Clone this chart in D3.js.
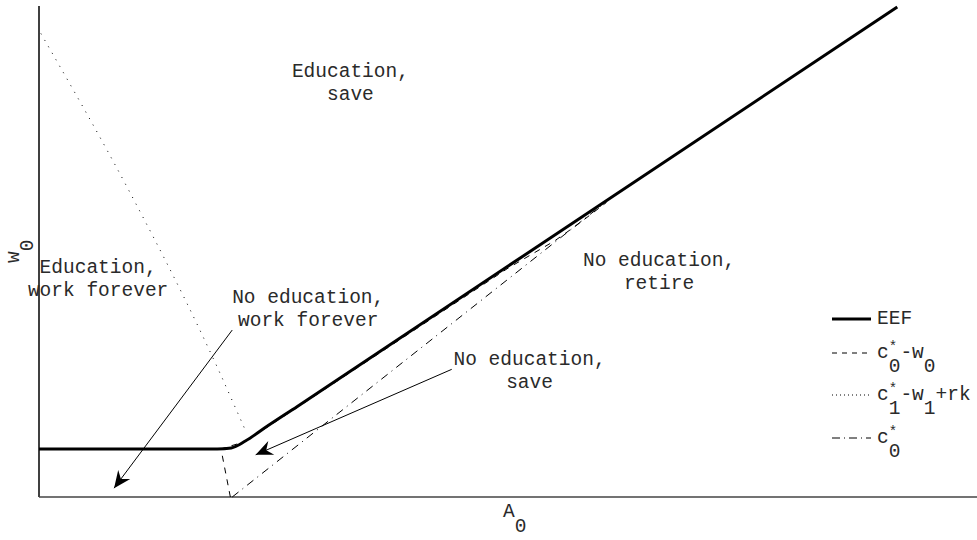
<!DOCTYPE html>
<html>
<head>
<meta charset="utf-8">
<script src="https://cdn.jsdelivr.net/npm/d3@7"></script>
<style>
  body { margin: 0; background: #fff; }
  text { font-family: "Liberation Mono", "Courier New", monospace; fill: #2a2a2a; }
</style>
</head>
<body>
<svg width="977" height="540"></svg>
<script>
// curves, [A0, w0]
var eef = [[0, 0.49], [1.9, 0.49], [2.05, 0.5], [2.2, 0.57], [2.4, 0.7], [2.75, 0.92], [9.15, 4.99]];
var eduSave = [[2.04, 0], [1.94, 0.49], [2.2, 0.565], [2.75, 0.91], [5.0, 2.33], [5.5, 2.61], [5.75, 2.78], [6.05, 3.0]];
var workLine = [[0.02, 4.72], [0.97, 3.1], [1.75, 1.63], [1.93, 1.26], [2.07, 0.96], [2.2, 0.68]];
var c0Line = [[2.06, 0], [6.05, 3.01]];

var regionLabels = [
    { lines: ["Education,", "save"], at: [3.32, 4.28] },
    { lines: ["Education,", "work forever"], at: [0.63, 2.28] },
    { lines: ["No education,", "work forever"], at: [2.87, 1.98] },
    { lines: ["No education,", "save"], at: [5.23, 1.34] },
    { lines: ["No education,", "retire"], at: [6.61, 2.35] }
];

var arrows = [
    { from: [2.06, 1.7], to: [0.8, 0.09] },
    { from: [4.4, 1.3], to: [2.31, 0.43] }
];

// legend: pieces are [text, column, baseline shift]
var legendItems = [
    { dash: null, width: 3, pieces: [["EEF", 0, 0]] },
    { dash: "5,5", width: 1, pieces: [["c", 0, 0], ["*", 1, -7], ["0", 1, 14], ["-w", 2, 0], ["0", 4, 14]] },
    { dash: "1,3", width: 1, pieces: [["c", 0, 0], ["*", 1, -7], ["1", 1, 14], ["-w", 2, 0], ["1", 4, 14], ["+rk", 5, 0]] },
    { dash: "8,4,1,4", width: 1, pieces: [["c", 0, 0], ["*", 1, -7], ["0", 1, 14]] }
];

var fs = 19.5;
var pitch = fs * 0.6;

var svg = d3.select("svg");

var x = d3.scaleLinear().domain([0, 10]).range([39, 977]);
var y = d3.scaleLinear().domain([0, 5]).range([497, 6]);

var line = d3.line()
    .x(function(d) { return x(d[0]); })
    .y(function(d) { return y(d[1]); });

svg.append("defs").append("marker")
    .attr("id", "head")
    .attr("viewBox", "-18 -9 20 18")
    .attr("markerUnits", "userSpaceOnUse")
    .attr("markerWidth", 20)
    .attr("markerHeight", 18)
    .attr("refX", 0)
    .attr("refY", 0)
    .attr("orient", "auto")
    .append("path")
    .attr("d", "M0,0 L-17,-7.5 L-11.5,0 L-17,7.5 Z")
    .style("fill", "#000");

// axes (no ticks)
svg.append("line")
    .attr("x1", x(0)).attr("x2", x(0))
    .attr("y1", y(5)).attr("y2", y(0))
    .style("stroke", "#000").style("stroke-width", 1.5);
svg.append("line")
    .attr("x1", x(0)).attr("x2", x(10))
    .attr("y1", y(0)).attr("y2", y(0))
    .style("stroke", "#444").style("stroke-width", 1.5);

svg.append("path").datum(workLine)
    .attr("d", line.curve(d3.curveMonotoneX))
    .style("fill", "none").style("stroke", "#000").style("stroke-width", 1)
    .style("stroke-dasharray", "1,6.5");

svg.append("path").datum(eduSave)
    .attr("d", line.curve(d3.curveLinear))
    .style("fill", "none").style("stroke", "#000").style("stroke-width", 1)
    .style("stroke-dasharray", "6,6");

svg.append("path").datum(c0Line)
    .attr("d", line.curve(d3.curveLinear))
    .style("fill", "none").style("stroke", "#000").style("stroke-width", 1)
    .style("stroke-dasharray", "8,5,1,5");

svg.append("path").datum(eef)
    .attr("d", line.curve(d3.curveMonotoneX))
    .style("fill", "none").style("stroke", "#000").style("stroke-width", 3);

svg.selectAll("line.arrow")
    .data(arrows)
    .enter()
    .append("line")
    .attr("class", "arrow")
    .attr("x1", function(d) { return x(d.from[0]); })
    .attr("y1", function(d) { return y(d.from[1]); })
    .attr("x2", function(d) { return x(d.to[0]); })
    .attr("y2", function(d) { return y(d.to[1]); })
    .attr("marker-end", "url(#head)")
    .style("stroke", "#000").style("stroke-width", 1);

var labels = svg.selectAll("text.region")
    .data(regionLabels)
    .enter()
    .append("text")
    .attr("class", "region")
    .style("font-size", fs + "px")
    .style("text-anchor", "middle");

labels.selectAll("tspan")
    .data(function(d) {
        return d.lines.map(function(t, i) { return { t: t, i: i, at: d.at }; });
    })
    .enter()
    .append("tspan")
    .attr("x", function(d) { return x(d.at[0]); })
    .attr("y", function(d) { return y(d.at[1]) + d.i * 23; })
    .text(function(d) { return d.t; });

// axis titles
var xt = svg.append("text").attr("x", 503).attr("y", 517).style("font-size", fs + "px");
xt.append("tspan").text("A");
xt.append("tspan").attr("dy", 15).text("0");

var yt = svg.append("text").attr("transform", "translate(19,263) rotate(-90)").style("font-size", fs + "px");
yt.append("tspan").text("w");
yt.append("tspan").attr("dy", 14).text("0");

// legend
var rowY = [319, 353, 395, 438];
var leg = svg.append("g");
legendItems.forEach(function(item, i) {
    leg.append("line")
        .attr("x1", 832).attr("x2", 871)
        .attr("y1", rowY[i]).attr("y2", rowY[i])
        .style("stroke", "#000")
        .style("stroke-width", item.width)
        .style("stroke-dasharray", item.dash);
    item.pieces.forEach(function(p) {
        leg.append("text")
            .attr("x", 877 + p[1] * pitch)
            .attr("y", rowY[i] + 5 + p[2])
            .style("font-size", (p[0] === "*" ? 14 : fs) + "px")
            .text(p[0]);
    });
});
</script>
</body>
</html>
